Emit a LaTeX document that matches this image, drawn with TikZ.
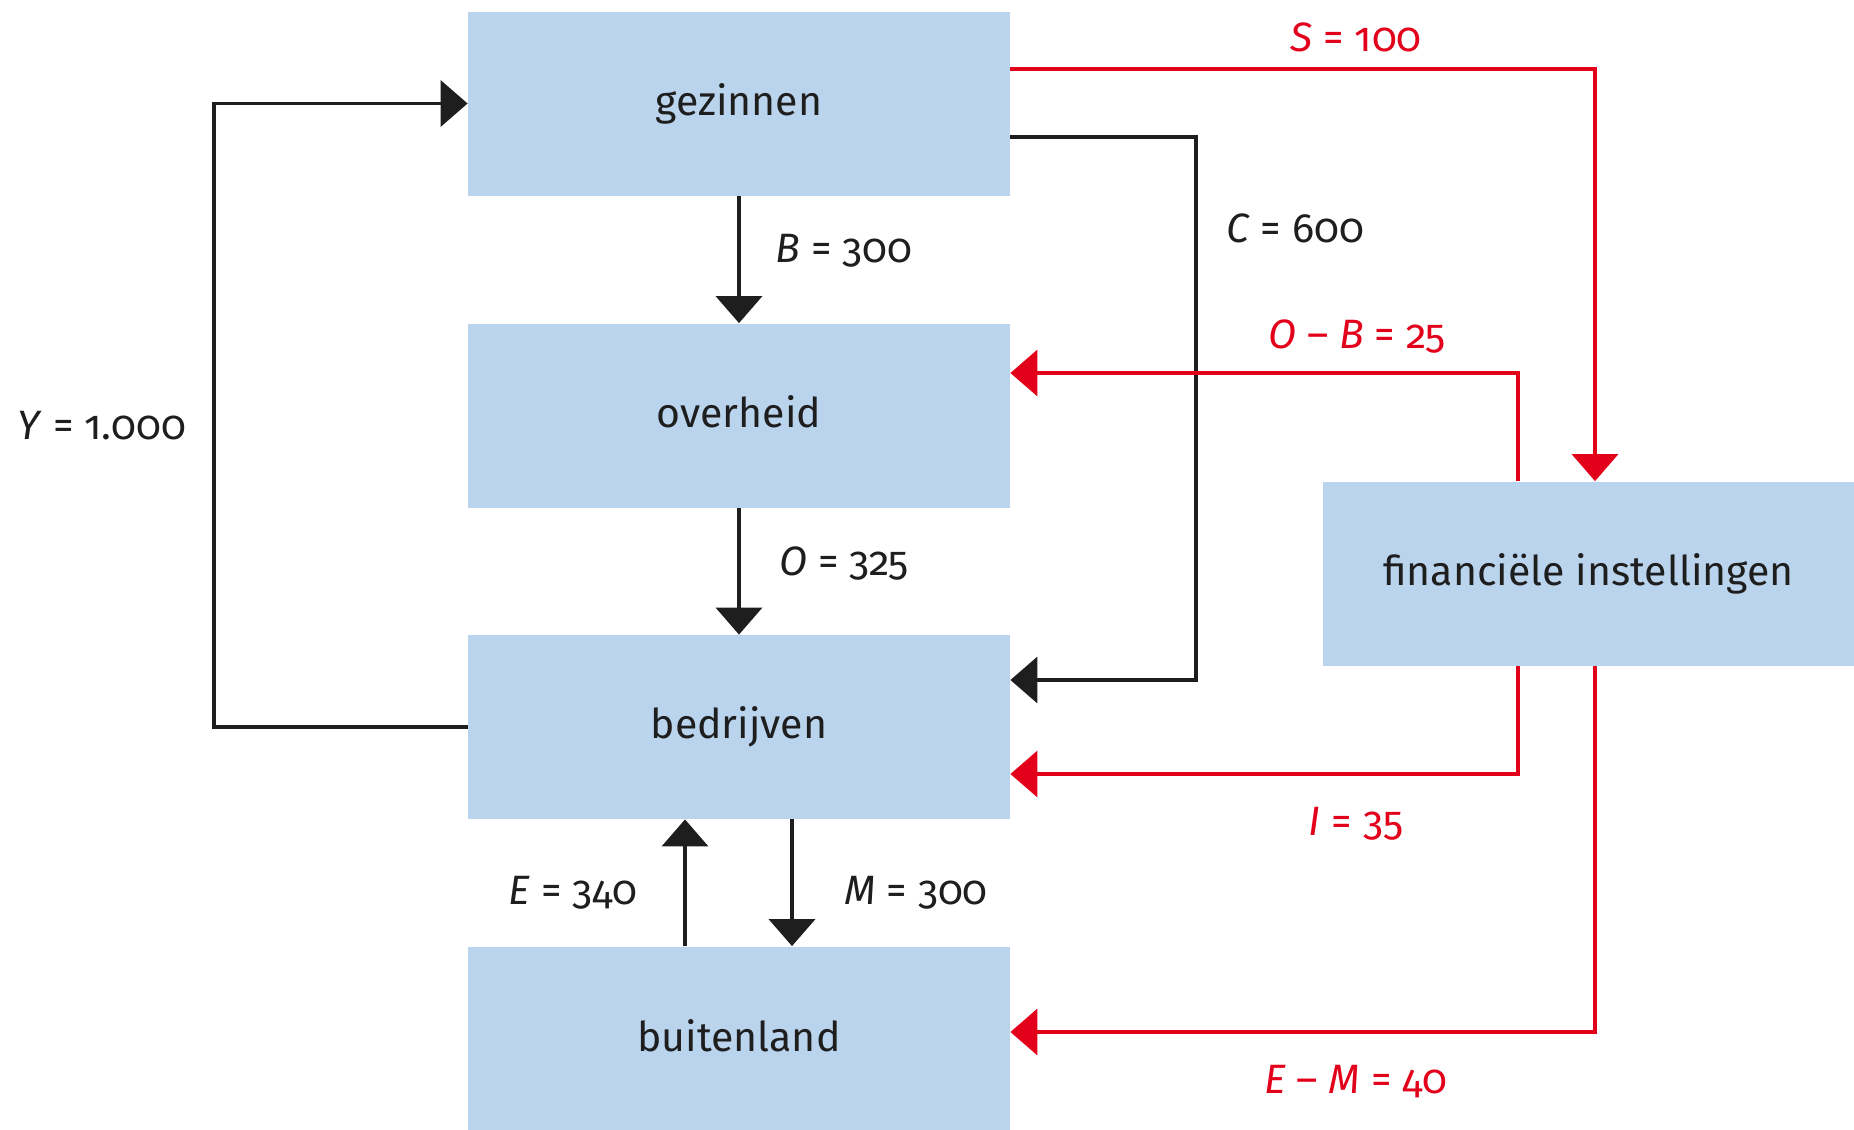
\documentclass[tikz,border=0pt]{standalone}
\usepackage{fontspec}
\setmainfont{Fira Sans}[Numbers=OldStyle]
\usetikzlibrary{arrows.meta}
\definecolor{boxblue}{HTML}{BBD4EE}
\definecolor{fred}{HTML}{E2001A}
\definecolor{fblack}{HTML}{1E1E1E}
\begin{document}
\begin{tikzpicture}[x=0.5pt,y=-0.5pt,
  box/.style={fill=boxblue, draw=none, minimum width=271pt, minimum height=92pt, inner sep=0pt, font=\fontsize{20.5}{24}\selectfont, text=fblack},
  tip/.style={-{Triangle[length=13.5pt,width=23pt]}},
  blk/.style={draw=fblack, line width=1.9pt, tip},
  rd/.style={draw=fred, line width=1.9pt, tip},
  lbl/.style={font=\fontsize{20.5}{24}\selectfont, text=fblack, inner sep=0pt},
  rlbl/.style={font=\fontsize{20.5}{24}\selectfont, text=fred, inner sep=0pt}]
\useasboundingbox (0,0) rectangle (1854,1130);
% boxes
\node[box] (gez) at (739,103.5) {\raisebox{3.5pt}{gezinnen}};
\node[box] (ov) at (739,415.5) {\raisebox{3.5pt}{overheid}};
\node[box] (bed) at (739,727) {\raisebox{2pt}{bedrijven}};
\node[box] (bui) at (739,1038.5) {\raisebox{3pt}{buitenland}};
\node[box, minimum width=265.5pt] (fin) at (1588.5,573.5) {\raisebox{1pt}{financiële instellingen}};
% coordinates
\coordinate (yl) at (214,727);
\coordinate (ex) at (685,0);
\coordinate (mx) at (792,0);
\coordinate (c1) at (1196,137);
\coordinate (c2) at (1196,680);
\coordinate (s1) at (1595,69);
\coordinate (ob) at (1518,373);
\coordinate (ii) at (1518,774);
\coordinate (em) at (1595,1032);
% black connectors
\draw[blk] (bed.west) -- (yl) |- (gez.west);
\draw[blk] (gez.south) -- (ov.north);
\draw[blk] (ov.south) -- (bed.north);
\draw[blk] (bui.north -| ex) -- (bed.south -| ex);
\draw[blk] (bed.south -| mx) -- (bui.north -| mx);
\draw[blk] (gez.east |- c1) -- (c1) -- (c2) -- (bed.east |- c2);
% red connectors
\draw[rd] (gez.east |- s1) -- (s1) -- (fin.north -| s1);
\draw[rd] (fin.north -| ob) -- (ob) -- (ov.east |- ob);
\draw[rd] (fin.south -| ii) -- (ii) -- (bed.east |- ii);
\draw[rd] (fin.south -| em) -- (em) -- (bui.east |- em);
% labels
\node[lbl] (ly) at (102,426) {\textit{Y} = 1.000};
\node[lbl] (lb) at (844,251) {\textit{B} = 300};
\node[lbl] (lo) at (844,564) {\textit{O} = 325};
\node[lbl] (le) at (573,893) {\textit{E} = 340};
\node[lbl] (lm) at (916,893) {\textit{M} = 300};
\node[lbl] (lc) at (1295,228) {\textit{C} = 600};
\node[rlbl] (ls) at (1356,37) {\textit{S} = 100};
\node[rlbl] (lob) at (1357,337) {\textit{O} – \textit{B} = 25};
\node[rlbl] (li) at (1356,824) {\textit{I} = 35};
\node[rlbl] (lem) at (1356,1082) {\textit{E} – \textit{M} = 40};
\end{tikzpicture}
\end{document}
